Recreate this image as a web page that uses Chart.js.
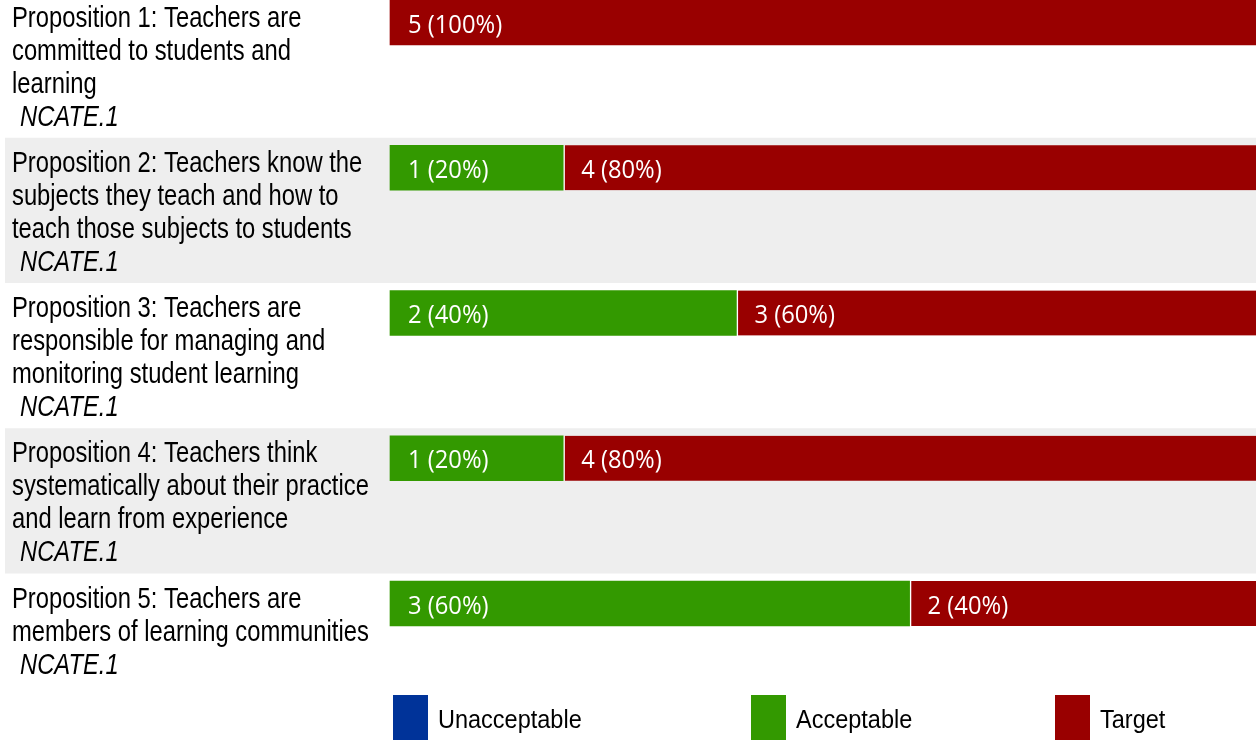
<!DOCTYPE html>
<html>
<head>
<meta charset="utf-8">
<script src="https://cdn.jsdelivr.net/npm/chart.js@4.4.1/dist/chart.umd.min.js"></script>
<style>
  html, body { margin: 0; padding: 0; background: #fff; }
  #wrap { width: 1256px; height: 742px; position: relative; }
</style>
</head>
<body>
<div id="wrap"><canvas id="chart-bar"></canvas></div>
<script>
// Category labels (line breaks as in the picture)
var propositions = [
  ["Proposition 1: Teachers are", "committed to students and", "learning"],
  ["Proposition 2: Teachers know the", "subjects they teach and how to", "teach those subjects to students"],
  ["Proposition 3: Teachers are", "responsible for managing and", "monitoring student learning"],
  ["Proposition 4: Teachers think", "systematically about their practice", "and learn from experience"],
  ["Proposition 5: Teachers are", "members of learning communities"]
];
var standards = ["NCATE.1", "NCATE.1", "NCATE.1", "NCATE.1", "NCATE.1"];

// Series values (counts)
var seriesNames = ["Unacceptable", "Acceptable", "Target"];
var unacceptable = [0, 0, 0, 0, 0];
var acceptable = [0, 1, 2, 1, 3];
var target = [5, 4, 3, 4, 2];
var totalCount = 5;

var colors = ["#003399", "#339900", "#990000"];
var bandColor = "#eeeeee";
var labelFont = "29px 'Liberation Sans', Arial, sans-serif";
var legendFont = "25px 'Liberation Sans', Arial, sans-serif";
var valueFont = "25px 'Open Sans', sans-serif";

var ctx = document.getElementById("chart-bar").getContext("2d");

// draw text squeezed horizontally (narrow look)
function drawNarrow(c, text, x, y, font, sx) {
  c.save();
  c.font = font;
  c.translate(x, y);
  c.scale(sx, 1);
  c.fillText(text, 0, 0);
  c.restore();
}

// Row backgrounds, row labels, value labels and legend
var rowPlugin = {
  id: "rows",
  beforeDatasetsDraw: function (chart) {
    var c = chart.ctx;
    var y = chart.scales.y;
    var step = y.getPixelForValue(1) - y.getPixelForValue(0);
    c.save();
    propositions.forEach(function (lines, i) {
      var top = y.getPixelForValue(i) - 30;
      if (i % 2 === 1) {
        c.fillStyle = bandColor;
        c.fillRect(5, top, chart.width - 5, step);
      }
      c.fillStyle = "#000";
      c.textBaseline = "alphabetic";
      c.textAlign = "left";
      lines.forEach(function (line, k) {
        drawNarrow(c, line, 12, top + 34 + k * 33, labelFont, 0.82);
      });
      drawNarrow(c, standards[i], 20, top + 34 + lines.length * 33,
        "italic " + labelFont, 0.82);
    });
    c.restore();
  },
  afterDatasetsDraw: function (chart) {
    var c = chart.ctx;
    c.save();
    c.fillStyle = "#fff";
    c.textBaseline = "alphabetic";
    chart.data.datasets.forEach(function (ds, d) {
      var meta = chart.getDatasetMeta(d);
      meta.data.forEach(function (bar, i) {
        var v = ds.data[i];
        if (!v) return;
        var left = Math.min(bar.x, bar.base);
        var txt = v + " (" + Math.round(v / totalCount * 100) + "%)";
        drawNarrow(c, txt, left + 18, bar.y + 10, valueFont, 0.95);
      });
    });
    // legend
    var lx = [393, 751, 1055];
    seriesNames.forEach(function (name, k) {
      c.fillStyle = colors[k];
      c.fillRect(lx[k], 695, 35, 45);
      c.fillStyle = "#000";
      drawNarrow(c, name, lx[k] + 45, 728, legendFont, 0.94);
    });
    c.restore();
  }
};

function makeSet(k, values) {
  return {
    label: seriesNames[k],
    // zero counts are left out so no hairline is drawn
    data: values.map(function (v) { return v || null; }),
    backgroundColor: colors[k],
    borderColor: "#ffffff",
    borderSkipped: false,
    borderWidth: function (context) {
      // white gap before a segment that follows another segment
      var i = context.dataIndex;
      if (k === 2 && acceptable[i] > 0) return { left: 2, right: 0, top: 0, bottom: 0 };
      return 0;
    },
    barThickness: 45,
    clip: false
  };
}

new Chart(ctx, {
  type: "bar",
  data: {
    labels: propositions.map(function (l) { return l.join(" "); }),
    datasets: [
      makeSet(0, unacceptable),
      makeSet(1, acceptable),
      makeSet(2, target)
    ]
  },
  options: {
    indexAxis: "y",
    responsive: true,
    maintainAspectRatio: false,
    animation: false,
    layout: { padding: { left: 390, right: 0, top: 22.5, bottom: 138.5 } },
    plugins: {
      legend: { display: false },
      tooltip: { enabled: false }
    },
    scales: {
      x: { stacked: true, min: 0, max: totalCount, display: false },
      y: { stacked: true, offset: false, display: false, grid: { display: false } }
    }
  },
  plugins: [rowPlugin]
});
</script>
</body>
</html>
